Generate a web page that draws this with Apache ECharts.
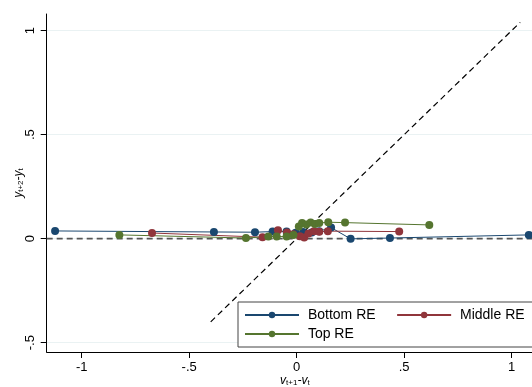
<!DOCTYPE html>
<html>
<head>
<meta charset="utf-8">
<script src="https://cdn.jsdelivr.net/npm/echarts@6/dist/echarts.min.js"></script>
<style>html,body{margin:0;padding:0;background:#fff;}#c{width:532px;height:387px;}</style>
</head>
<body>
<div id="c"></div>
<script>
const seriesNames = ['Bottom RE', 'Middle RE', 'Top RE'];
const bottomX = [-1.124, -0.385, -0.194, -0.112, -0.047, -0.005, 0.03, 0.07, 0.105, 0.16, 0.251, 0.434, 1.08];
const bottomY = [0.037, 0.032, 0.031, 0.034, 0.034, 0.028, 0.032, 0.030, 0.036, 0.053, -0.001, 0.003, 0.018];
const middleX = [-0.673, -0.159, -0.087, -0.045, -0.016, 0.015, 0.035, 0.055, 0.08, 0.105, 0.145, 0.477];
const middleY = [0.027, 0.007, 0.040, 0.030, 0.021, 0.012, 0.005, 0.025, 0.035, 0.033, 0.036, 0.034];
const topX = [-0.825, -0.236, -0.132, -0.093, -0.047, -0.015, 0.01, 0.025, 0.045, 0.065, 0.085, 0.105, 0.147, 0.225, 0.617];
const topY = [0.018, 0.003, 0.010, 0.010, 0.010, 0.018, 0.058, 0.075, 0.068, 0.078, 0.070, 0.075, 0.079, 0.077, 0.066];
const xTicks = [-1, -0.5, 0, 0.5, 1];
const yTicks = [-0.5, 0, 0.5, 1];
const diagX = [-0.4, 1.04];
const zeroLineX = [-1.163, 1.146];

const colors = ['#1a476f', '#90353b', '#55752f'];
const fmt = v => { if (v === 0) return '0'; let s = String(v); return s.replace(/^(-?)0\./, '$1.'); };
const zip = (xs, ys) => xs.map((x, i) => [x, ys[i]]);

const chart = echarts.init(document.getElementById('c'), null, {renderer: 'canvas'});
const font = 'Liberation Sans, Arial, sans-serif';
const mk = (name, xs, ys, c) => ({
  name, type: 'line', data: zip(xs, ys), symbol: 'circle', symbolSize: 8,
  lineStyle: {color: c, width: 1}, itemStyle: {color: c}, emphasis: {disabled: true},
  animation: false, z: 3
});
const nameRich = {
  i: {fontSize: 12, fontStyle: 'italic', fontFamily: font, color: '#000'},
  s: {fontSize: 8, fontFamily: font, color: '#000', verticalAlign: 'bottom', padding: [4, 0, 0, 0]}
};
chart.setOption({
  animation: false,
  grid: {left: 46.7, right: -11, top: 14, bottom: 35, containLabel: false, outerBoundsMode: 'none'},
  xAxis: {
    type: 'value', min: zeroLineX[0], max: zeroLineX[1],
    axisLine: {show: true, onZero: false, lineStyle: {color: '#000', width: 1}},
    axisTick: {show: true, length: 6, customValues: xTicks, lineStyle: {color: '#000'}},
    axisLabel: {customValues: xTicks, formatter: fmt, color: '#000', fontSize: 13, fontFamily: font, margin: 9},
    splitLine: {show: false},
    name: '{i|v}{s|t+1}{i|-v}{s|t}', nameLocation: 'middle', nameGap: 23, nameMoveOverlap: false,
    nameTextStyle: {rich: nameRich}
  },
  yAxis: {
    type: 'value', min: -0.545, max: 1.08,
    axisLine: {show: true, onZero: false, lineStyle: {color: '#000', width: 1}},
    axisTick: {show: true, length: 6, customValues: yTicks, lineStyle: {color: '#000'}},
    axisLabel: {customValues: yTicks, formatter: fmt, color: '#000', fontSize: 13, fontFamily: font, rotate: 90, margin: 10},
    splitLine: {show: true, lineStyle: {color: '#eaf2f3', width: 1}},
    name: '{i|y}{s|t+2}{i|-y}{s|t}', nameLocation: 'middle', nameGap: 22, nameRotate: 90, nameMoveOverlap: false,
    nameTextStyle: {rich: nameRich}
  },
  legend: {
    data: seriesNames, left: 238, top: 302, orient: 'horizontal', width: 300,
    padding: [6, 60, 6, 6], itemGap: 5, itemWidth: 54, itemHeight: 8,
    backgroundColor: '#fff', borderColor: '#444', borderWidth: 1,
    formatter: n => ' ' + n + '    ',
    textStyle: {fontSize: 14, fontFamily: font, color: '#000'},
    selectedMode: false
  },
  series: [
    {type: 'line', data: [[zeroLineX[0], 0], [zeroLineX[1], 0]], symbol: 'none', silent: true,
     lineStyle: {color: '#555', width: 1.6, type: [6, 4]}, z: 2},
    {type: 'line', data: zip(diagX, diagX), symbol: 'none', silent: true,
     lineStyle: {color: '#000', width: 1.2, type: [6, 4]}, z: 2},
    mk(seriesNames[0], bottomX, bottomY, colors[0]),
    mk(seriesNames[1], middleX, middleY, colors[1]),
    mk(seriesNames[2], topX, topY, colors[2])
  ]
});
</script>
</body>
</html>
